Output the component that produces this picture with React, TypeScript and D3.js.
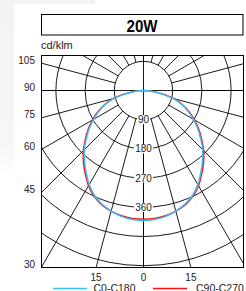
import * as d3 from 'd3'

// photometric polar diagram, values in cd/klm
const ANGLES = [0, 5, 10, 15, 20, 25, 30, 35, 40, 45, 50, 55, 60, 65, 70, 75, 80, 85, 90]
const C0_C180 = [401, 399, 394, 385, 373, 357, 335, 308, 283, 258, 230, 204, 177, 152, 125, 96, 52, 20, 0]
const C90_C270 = [397, 396, 392, 385, 375, 360, 339, 313, 288, 262, 234, 208, 181, 155, 128, 99, 56, 22, 0]
const RINGS = [90, 180, 270, 360, 450, 540, 630, 720]
const RING_LABELS = [90, 180, 270, 360]
const LEFT_TICKS = [105, 90, 75, 60, 45, 30]
const BOTTOM_TICKS = [-15, 0, 15]
const SERIES = [
  { name: 'C0-C180', values: C0_C180, color: '#3cbdf2' },
  { name: 'C90-C270', values: C90_C270, color: '#ff1010' },
]

const W = 246
const H = 291
const BOX = { x0: 41.5, y0: 55.5, x1: 243.5, y1: 267.5 }
const CX = 143.5
const CY = 90.5
const FONT = "'Liberation Sans', Arial, Helvetica, sans-serif"
const TEXT = '#222'

export default function App() {
  const r = d3.scaleLinear().domain([0, 90]).range([0, 29.2])
  const toRad = (deg: number) => (deg * Math.PI) / 180

  // angle in degrees from straight down; positive = left side
  const pt = (deg: number, v: number) => {
    const a = toRad(deg)
    return [CX - Math.sin(a) * r(v), CY + Math.cos(a) * r(v)]
  }

  const spokes = d3.range(0, 360, 15)

  const radial = d3
    .lineRadial<[number, number]>()
    .angle((d) => d[0])
    .radius((d) => r(d[1]))
    .curve(d3.curveCatmullRom)

  const curvePts = (vals: number[]): [number, number][] => {
    const left = ANGLES.map((a, i) => [Math.PI + toRad(a), vals[i]] as [number, number]).reverse()
    const right = ANGLES.slice(1).map((a, i) => [Math.PI - toRad(a), vals[i + 1]] as [number, number])
    return [...left, ...right]
  }

  return (
    <svg width={W} height={H} style={{ position: 'absolute', left: 0, top: 0, background: '#fff' }} fontFamily={FONT}>
      <defs>
        <clipPath id="box">
          <rect x={BOX.x0} y={BOX.y0} width={BOX.x1 - BOX.x0} height={BOX.y1 - BOX.y0} />
        </clipPath>
        <linearGradient id="fade" x1="0" y1="0" x2="0" y2="1">
          <stop offset="0" stopColor="#f3f3f3" />
          <stop offset="0.8" stopColor="#f6f6f6" />
          <stop offset="1" stopColor="#fff" />
        </linearGradient>
      </defs>

      {/* faint page background */}
      <rect x={0} y={0} width={95} height={4} fill="#f3f3f3" />
      <rect x={0} y={0} width={14} height={180} fill="url(#fade)" />

      {/* title */}
      <rect x={41.5} y={14.5} width={201.5} height={20.5} fill="none" stroke="#000" strokeWidth={1} />
      <text x={142} y={31.5} textAnchor="middle" fontWeight="bold" fontSize={16.5} textLength={31} lengthAdjust="spacingAndGlyphs" fill="#000">
        20W
      </text>
      <text x={41} y={49} fontSize={11} fill={TEXT}>cd/klm</text>

      {/* grid */}
      <g clipPath="url(#box)" fill="none" stroke="#000" strokeWidth={0.9}>
        {RINGS.map((v) => (
          <circle key={v} cx={CX} cy={CY} r={r(v)} />
        ))}
        {spokes.map((a) => {
          const [x1, y1] = pt(a, 90)
          const [x2, y2] = pt(a, 1000)
          return <line key={a} x1={x1} y1={y1} x2={x2} y2={y2} />
        })}
        <line x1={CX} y1={BOX.y0} x2={CX} y2={BOX.y1} />
        <line x1={BOX.x0} y1={CY} x2={BOX.x1} y2={CY} />
      </g>
      <rect x={BOX.x0} y={BOX.y0} width={BOX.x1 - BOX.x0} height={BOX.y1 - BOX.y0} fill="none" stroke="#000" strokeWidth={1} />

      {/* ring labels */}
      {RING_LABELS.map((v) => (
        <g key={v}>
          <rect x={CX - (v >= 100 ? 9.5 : 6.5)} y={CY + r(v) - 4.5} width={v >= 100 ? 19 : 13} height={9} fill="#fff" />
          <text x={CX} y={CY + r(v) + 3.5} textAnchor="middle" fontSize={10} fill={TEXT}>{v}</text>
        </g>
      ))}

      {/* curves */}
      <g transform={`translate(${CX},${CY})`} fill="none" clipPath="">
        {[...SERIES].reverse().map((s) => (
          <path key={s.name} d={radial(curvePts(s.values)) ?? ''} stroke={s.color} strokeWidth={1.5} />
        ))}
      </g>

      {/* angle labels */}
      {LEFT_TICKS.map((a) => {
        const t = (CX - BOX.x0) / Math.sin(toRad(a))
        const y = CY + t * Math.cos(toRad(a))
        return (
          <text key={a} x={35} y={y + 0.5} textAnchor="end" fontSize={10} fill={TEXT}>{a}</text>
        )
      })}
      {BOTTOM_TICKS.map((a) => {
        const x = CX + (BOX.y1 - CY) * Math.tan(toRad(a))
        return (
          <text key={a} x={x} y={281.3} textAnchor="middle" fontSize={10} fill={TEXT}>{Math.abs(a)}</text>
        )
      })}

      {/* legend */}
      {SERIES.map((s, i) => (
        <g key={s.name} transform={`translate(${53 + i * 100},0)`}>
          <line x1={0} x2={34} y1={288.5} y2={288.5} stroke={s.color} strokeWidth={1.5} />
          <text x={40.5 + i * 2.5} y={292} fontSize={10.5} fill={TEXT}>{s.name}</text>
        </g>
      ))}
    </svg>
  )
}
